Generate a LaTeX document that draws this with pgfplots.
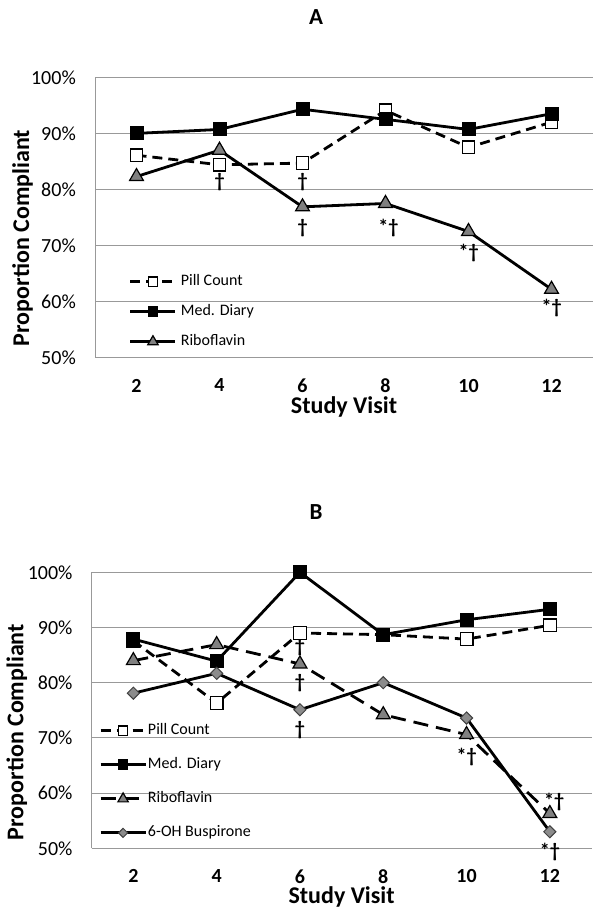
\documentclass[border=0pt]{standalone}
\usepackage{fontspec}
\setmainfont{Carlito}
\usepackage{pgfplots}
\pgfplotsset{compat=1.18}

\tikzset{ann/.style={font=\fontsize{20}{22}\selectfont\bfseries, inner sep=0pt}}
\pgfplotsset{
 compliance/.style={
  scale only axis, xmin=1, xmax=13, ymin=50, ymax=100,
  xtick={2,4,...,12}, ytick={50,60,...,100},
  /pgf/number format/assume math mode=true,
  xticklabel={\pgfmathprintnumber{\tick}},
  yticklabel={\pgfmathprintnumber{\tick}\%},
  axis lines*=left, x axis line style={draw=none},
  y axis line style={draw=black!40, line width=1pt},
  major tick length=0pt,
  ymajorgrids, major grid style={draw=black!40, line width=1pt},
  clip=false,
  yticklabel style={font=\fontsize{20}{22}\selectfont, inner sep=0pt, xshift=-19pt},
  xticklabel style={font=\fontsize{20}{22}\selectfont\bfseries, inner sep=0pt, yshift=-21pt},
  xlabel={Study Visit}, ylabel={Proportion Compliant},
  xlabel style={font=\fontsize{24}{26}\selectfont\bfseries, at={(axis description cs:0.5,0)}, anchor=center},
  ylabel style={font=\fontsize{24}{26}\selectfont\bfseries, anchor=center},
  legend cell align=left,
  legend image code/.code={\draw[mark repeat=2,mark phase=2,##1, every mark/.append style={scale=0.75}] plot coordinates {(0pt,0pt) (22.5pt,0pt) (45pt,0pt)};},
 },
 pill/.style={black, line width=2.8pt, dash pattern=on 10pt off 6pt, mark=square*, mark size=6.3pt, mark options={solid, fill=white, draw=black, line width=1.3pt}},
 diary/.style={black, line width=2.8pt, mark=square*, mark size=6.5pt, mark options={solid, fill=black, draw=black, line width=1pt}},
 ribo/.style={black, line width=2.8pt, mark=triangle*, mark size=8pt, mark options={solid, fill=black!50, draw=black, line width=1.2pt}},
 ribodash/.style={black, line width=2.8pt, dash pattern=on 15pt off 8pt, mark=triangle*, mark size=8pt, mark options={solid, fill=black!50, draw=black, line width=1.2pt}},
 busp/.style={black, line width=2.8pt, mark=square*, mark size=4.3pt, mark options={solid, rotate=45, fill=black!45, draw=black!75, line width=1pt}},
}

\begin{document}
\begin{tikzpicture}
\path[use as bounding box] (0pt,0pt) rectangle (601pt,916pt);
\node[font=\fontsize{23}{25}\selectfont\bfseries] at (316pt,898.5pt) {A};
\node[font=\fontsize{23}{25}\selectfont\bfseries] at (316pt,404pt) {B};

% Panel A
\begin{axis}[compliance, at={(95pt,558.3pt)}, anchor=south west, width=498pt, height=280.4pt,
  xlabel style={yshift=-49pt},
  ylabel style={at={(axis description cs:-0.1456,0.427)}},
  legend style={draw=none, fill=none, inner sep=0pt, anchor=north west, at={(axis description cs:0.068,0.302)},
    font=\fontsize{16}{18}\selectfont, row sep=13pt, column sep=0pt,
    nodes={inner sep=1pt, text height=11pt, text depth=4pt},
    /tikz/every odd column/.append style={column sep=3pt}}]
\addplot[pill] coordinates {(2,86.1) (4,84.4) (6,84.7) (8,94.1) (10,87.5) (12,92.0)};
\addlegendentry{Pill Count}
\addplot[diary] coordinates {(2,90.0) (4,90.7) (6,94.3) (8,92.5) (10,90.7) (12,93.5)};
\addlegendentry{Med. Diary}
\addplot[ribo] coordinates {(2,82.3) (4,87.0) (6,76.9) (8,77.5) (10,72.5) (12,62.2)};
\addlegendentry{Riboflavin}
\node[ann] at (axis cs:4,81.4) {†};
\node[ann] at (axis cs:6,81.4) {†};
\node[ann] at (axis cs:6,73.1) {†};
\node[ann] at (axis cs:8.07,73.1) {*†};
\node[ann] at (axis cs:10,68.7) {*†};
\node[ann] at (axis cs:12,58.8) {*†};
\end{axis}

% Panel B
\begin{axis}[compliance, at={(91.7pt,67.7pt)}, anchor=south west, width=499.8pt, height=276pt,
  xlabel style={yshift=-49pt},
  ylabel style={at={(axis description cs:-0.150,0.421)}},
  legend style={draw=none, fill=none, inner sep=0pt, anchor=north west, at={(axis description cs:0.0146,0.457)},
    font=\fontsize{16}{18}\selectfont, row sep=17pt, column sep=0pt,
    nodes={inner sep=1pt, text height=11pt, text depth=4pt}}]
\addplot[pill] coordinates {(2,87.6) (4,76.3) (6,89.0) (8,88.7) (10,87.9) (12,90.4)};
\addlegendentry{Pill Count}
\addplot[diary] coordinates {(2,87.9) (4,83.9) (6,100.0) (8,88.7) (10,91.4) (12,93.3)};
\addlegendentry{Med. Diary}
\addplot[ribodash] coordinates {(2,84.0) (4,86.9) (6,83.4) (8,74.2) (10,70.6) (12,56.3)};
\addlegendentry{Riboflavin}
\addplot[busp] coordinates {(2,78.1) (4,81.7) (6,75.1) (8,80.0) (10,73.6) (12,53.0)};
\addlegendentry{6-OH Buspirone}
\node[ann] at (axis cs:6,86.5) {†};
\node[ann] at (axis cs:6,79.9) {†};
\node[ann] at (axis cs:6,71.4) {†};
\node[ann] at (axis cs:10,66.6) {*†};
\node[ann] at (axis cs:12.1,58.4) {*†};
\node[ann] at (axis cs:12,49.4) {*†};
\end{axis}
\end{tikzpicture}
\end{document}
